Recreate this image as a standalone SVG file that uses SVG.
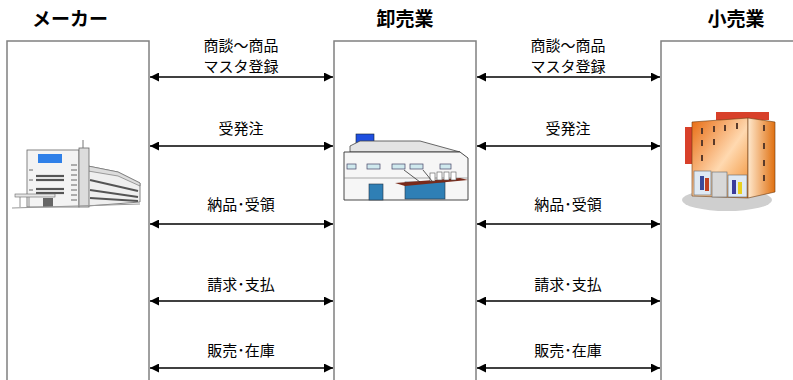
<svg xmlns="http://www.w3.org/2000/svg" width="793" height="380" viewBox="0 0 793 380">
  <defs>
    <style>
      .title { font-family: "Liberation Sans", "Noto Sans CJK JP", sans-serif; font-size: 19px; font-weight: bold; fill: #000; text-anchor: middle; }
      .label { font-family: "Noto Sans CJK JP", sans-serif; font-size: 15px; fill: #000; text-anchor: middle; }
      .lane { fill: #fff; stroke: #808080; stroke-width: 1.5; }
      .flow { stroke: #000; stroke-width: 1.3; fill: none; marker-start: url(#head); marker-end: url(#head); }
      .edge { stroke: #555; stroke-width: 0.8; }
    </style>
    <marker id="head" viewBox="0 0 10 10" refX="10" refY="5" markerWidth="9" markerHeight="9" markerUnits="userSpaceOnUse" orient="auto-start-reverse">
      <path d="M0,0 L10,5 L0,10 Z" fill="#000"/>
    </marker>
    <linearGradient id="orangeFront" x1="0" y1="0" x2="1" y2="1">
      <stop offset="0" stop-color="#e86a10"/>
      <stop offset="0.55" stop-color="#ffd9b0"/>
      <stop offset="1" stop-color="#f08a2a"/>
    </linearGradient>
    <linearGradient id="orangeSide" x1="0" y1="0" x2="1" y2="0">
      <stop offset="0" stop-color="#ffe8cc"/>
      <stop offset="1" stop-color="#e07010"/>
    </linearGradient>
  </defs>

  <!-- column headings -->
  <text class="title" x="70" y="26">メーカー</text>
  <text class="title" x="405" y="26">卸売業</text>
  <text class="title" x="736" y="26">小売業</text>

  <!-- manufacturer -->
  <g id="maker">
    <rect class="lane" x="7" y="41" width="142" height="350"/>
    <g id="factory">
      <!-- side wing -->
      <polygon points="88,166 118,172 140,183 140,202 88,206" fill="#efefef" stroke="#666" stroke-width="0.8"/>
      <polygon points="88,166 118,172 140,183 140,186 118,176 88,171" fill="#ddd" stroke="#666" stroke-width="0.6"/>
      <g stroke="#555" stroke-width="2">
        <line x1="90" y1="180" x2="138" y2="191"/>
        <line x1="90" y1="190" x2="138" y2="197"/>
        <line x1="90" y1="198" x2="138" y2="201"/>
      </g>
      <!-- main tower -->
      <rect x="27" y="150" width="52" height="57" fill="#f3f3f3" stroke="#666" stroke-width="0.8"/>
      <rect x="79" y="148" width="10" height="59" fill="#dcdcdc" stroke="#666" stroke-width="0.8"/>
      <line x1="83" y1="140" x2="83" y2="148" stroke="#777" stroke-width="1"/>
      <rect x="38" y="154" width="24" height="9" fill="#2f80e8"/>
      <g stroke="#555" stroke-width="2.2">
        <line x1="36" y1="176" x2="64" y2="176"/>
        <line x1="36" y1="180" x2="64" y2="180"/>
        <line x1="36" y1="189" x2="64" y2="189"/>
        <line x1="36" y1="193" x2="64" y2="193"/>
      </g>
      <g stroke="#666" stroke-width="1">
        <line x1="71" y1="165" x2="77" y2="165"/>
        <line x1="71" y1="170" x2="77" y2="170"/>
        <line x1="71" y1="175" x2="77" y2="175"/>
        <line x1="71" y1="180" x2="77" y2="180"/>
        <line x1="71" y1="185" x2="77" y2="185"/>
        <line x1="71" y1="190" x2="77" y2="190"/>
        <line x1="71" y1="195" x2="77" y2="195"/>
        <line x1="71" y1="200" x2="77" y2="200"/>
        <line x1="29" y1="170" x2="33" y2="170"/>
        <line x1="29" y1="180" x2="33" y2="180"/>
        <line x1="29" y1="190" x2="33" y2="190"/>
      </g>
      <!-- entrance canopy -->
      <rect x="15" y="194" width="40" height="3" fill="#e6e6e6" stroke="#666" stroke-width="0.6"/>
      <line x1="20" y1="197" x2="20" y2="207" stroke="#777" stroke-width="0.8"/>
      <line x1="29" y1="197" x2="29" y2="207" stroke="#777" stroke-width="0.8"/>
      <rect x="43" y="198" width="10" height="9" fill="#666"/>
      <line x1="12" y1="208" x2="140" y2="204" stroke="#999" stroke-width="1"/>
    </g>
  </g>

  <!-- wholesaler -->
  <g id="wholesaler">
    <rect class="lane" x="334" y="41" width="142" height="350"/>
    <g id="warehouse">
      <rect x="356" y="134" width="18" height="12" fill="#1f4fe0" stroke="#123" stroke-width="0.6"/>
      <polygon points="350,146 360,141 420,141 460,152 350,152" fill="#e4e4e4" stroke="#444" stroke-width="0.8"/>
      <polygon points="344,152 460,152 468,158 468,200 344,200" fill="#f6f6f6" stroke="#333" stroke-width="0.9"/>
      <line x1="344" y1="178" x2="468" y2="178" stroke="#777" stroke-width="0.6"/>
      <g fill="#cfe9ee" stroke="#446" stroke-width="0.7">
        <rect x="347" y="164" width="9" height="5"/>
        <rect x="367" y="164" width="13" height="5"/>
        <rect x="392" y="164" width="13" height="5"/>
        <rect x="410" y="164" width="13" height="5"/>
        <rect x="440" y="164" width="11" height="5"/>
      </g>
      <rect x="369" y="184" width="14" height="16" fill="#2f7fb5" stroke="#234" stroke-width="0.6"/>
      <rect x="405" y="182" width="40" height="17" fill="#2f7fb5" stroke="#234" stroke-width="0.6"/>
      <polygon points="395,183 460,178 468,180 405,186" fill="#7a2a1a"/>
      <g fill="#fff" stroke="#555" stroke-width="0.6">
        <rect x="430" y="173" width="5" height="8"/>
        <rect x="437" y="172" width="5" height="8"/>
        <rect x="444" y="172" width="5" height="8"/>
        <rect x="451" y="172" width="5" height="8"/>
      </g>
      <line x1="404" y1="170" x2="420" y2="182" stroke="#333" stroke-width="0.8"/>
      <line x1="423" y1="170" x2="432" y2="181" stroke="#333" stroke-width="0.8"/>
    </g>
  </g>

  <!-- retailer -->
  <g id="retailer">
    <rect class="lane" x="661" y="41" width="142" height="350"/>
    <g id="store">
      <ellipse cx="727" cy="200" rx="45" ry="11" fill="#cfcfcf"/>
      <rect x="716" y="112" width="53" height="8" fill="#d8402a"/>
      <rect x="685" y="127" width="8" height="37" fill="#d8402a"/>
      <polygon points="692,122 748,118 748,198 692,196" fill="url(#orangeFront)" stroke="#6b3a10" stroke-width="0.6"/>
      <polygon points="748,118 775,122 775,192 748,198" fill="url(#orangeSide)" stroke="#6b3a10" stroke-width="0.6"/>
      <g fill="#5a3a2a">
        <rect x="701" y="128" width="2" height="6"/>
        <rect x="713" y="126" width="2" height="6"/>
        <rect x="724" y="125" width="2" height="6"/>
        <rect x="736" y="123" width="2" height="6"/>
        <rect x="701" y="140" width="2" height="6"/>
        <rect x="713" y="139" width="2" height="6"/>
        <rect x="701" y="155" width="2" height="6"/>
        <rect x="763" y="125" width="2" height="6"/>
        <rect x="763" y="143" width="2" height="6"/>
        <rect x="763" y="160" width="2" height="6"/>
        <rect x="763" y="175" width="2" height="6"/>
      </g>
      <rect x="694" y="171" width="17" height="24" fill="#dfe9f3" stroke="#666" stroke-width="0.6"/>
      <rect x="712" y="172" width="15" height="25" fill="#d8d8d8" stroke="#666" stroke-width="0.6"/>
      <rect x="728" y="175" width="19" height="22" fill="#dfe9f3" stroke="#666" stroke-width="0.6"/>
      <rect x="700" y="176" width="4" height="14" fill="#3a4a9a"/>
      <rect x="705" y="178" width="4" height="13" fill="#c04020"/>
      <rect x="732" y="180" width="4" height="14" fill="#3a3a9a"/>
      <rect x="738" y="182" width="4" height="12" fill="#e8d020"/>
    </g>
  </g>

  <!-- flows between the parties -->
  <g id="connectors">
    <line class="flow" x1="150" y1="77" x2="333" y2="77"/>
    <line class="flow" x1="150" y1="146" x2="333" y2="146"/>
    <line class="flow" x1="150" y1="224" x2="333" y2="224"/>
    <line class="flow" x1="150" y1="301" x2="333" y2="301"/>
    <line class="flow" x1="150" y1="368" x2="333" y2="368"/>
    <line class="flow" x1="477" y1="77" x2="660" y2="77"/>
    <line class="flow" x1="477" y1="146" x2="660" y2="146"/>
    <line class="flow" x1="477" y1="224" x2="660" y2="224"/>
    <line class="flow" x1="477" y1="301" x2="660" y2="301"/>
    <line class="flow" x1="477" y1="368" x2="660" y2="368"/>

    <text class="label" x="241" y="51">商談～商品</text>
    <text class="label" x="241" y="72">マスタ登録</text>
    <text class="label" x="241" y="134">受発注</text>
    <text class="label" x="241" y="210">納品･受領</text>
    <text class="label" x="241" y="290">請求･支払</text>
    <text class="label" x="241" y="356">販売･在庫</text>

    <text class="label" x="568" y="51">商談～商品</text>
    <text class="label" x="568" y="72">マスタ登録</text>
    <text class="label" x="568" y="134">受発注</text>
    <text class="label" x="568" y="210">納品･受領</text>
    <text class="label" x="568" y="290">請求･支払</text>
    <text class="label" x="568" y="356">販売･在庫</text>
  </g>
</svg>
